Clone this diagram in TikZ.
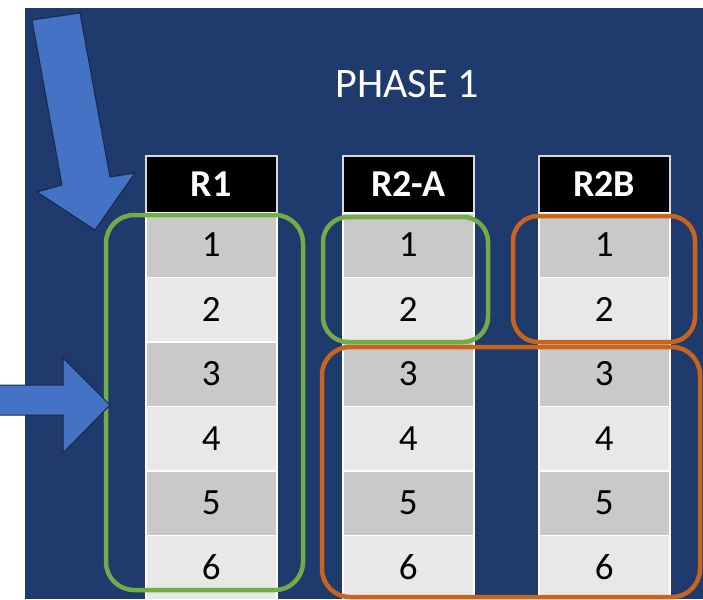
\documentclass[tikz,border=0pt]{standalone}
\usepackage{fontspec}
\setmainfont{Carlito}
\definecolor{bgblue}{HTML}{1F3A6D}
\definecolor{arrowblue}{HTML}{4472C4}
\definecolor{arrowedge}{HTML}{17284A}
\definecolor{cellodd}{HTML}{C9C9C9}
\definecolor{celleven}{HTML}{E8E8E8}
\definecolor{grpgreen}{HTML}{70AD47}
\definecolor{grporange}{HTML}{C8641C}
\begin{document}
\begin{tikzpicture}[x=1pt,y=-1pt,
  cellbox/.style={draw=white, line width=1.5pt, minimum width=131pt, minimum height=64.5pt,
    anchor=north west, inner sep=0pt, font=\fontsize{37}{40}\selectfont, text=black},
  headbox/.style={fill=black, draw=white!85!black, line width=1.5pt, minimum width=131pt, minimum height=57pt,
    anchor=north west, inner sep=0pt, font=\fontsize{38}{40}\selectfont\bfseries, text=white},
  greengrp/.style={draw=grpgreen, line width=4.5pt, rounded corners=28pt},
  orangegrp/.style={draw=grporange, line width=4.5pt, rounded corners=28pt},
  bigarrow/.style={fill=arrowblue, draw=arrowedge, line width=1pt, line join=miter}
]
\useasboundingbox (0,0) rectangle (703,599);
\fill[white] (0,0) rectangle (703,599);
\fill[bgblue] (25,8) rectangle (703,599);

\node[font=\fontsize{42}{44}\selectfont, text=white] (title) at (407,84) {PHASE 1};

\begin{scope}
\clip (25,8) rectangle (703,599);
\foreach \cx/\lab/\nm in {145/R1/a, 342/R2-A/b, 538/R2B/c}{
  \node[headbox] (h\nm) at (\cx,155) {\raisebox{-2.5pt}{\lab}};
  \foreach \r in {1,...,6}{
    \pgfmathsetmacro{\ry}{212+(\r-1)*64.5}
    \ifodd\r
      \node[cellbox, fill=cellodd] (\nm\r) at (\cx,\ry) {\raisebox{-5pt}{\r}};
    \else
      \node[cellbox, fill=celleven] (\nm\r) at (\cx,\ry) {\raisebox{-5pt}{\r}};
    \fi
  }
}
\end{scope}

% group outlines
\draw[greengrp] (106,215) rectangle (303,590);
\draw[greengrp, rounded corners=25pt] (323,217) rectangle (488,342);
\draw[orangegrp, rounded corners=25pt] (513,216) rectangle (695,342);
\draw[orangegrp] (322,347) rectangle (700,597);

% arrows
\draw[bigarrow] (32,20) -- (80,13) -- (110,177) -- (135,173) -- (95,230) -- (37,192) -- (62,185) -- cycle;
\draw[bigarrow] (-2,385) -- (63,385) -- (63,358) -- (110,405) -- (63,453) -- (63,415) -- (-2,415) -- cycle;
\end{tikzpicture}
\end{document}
